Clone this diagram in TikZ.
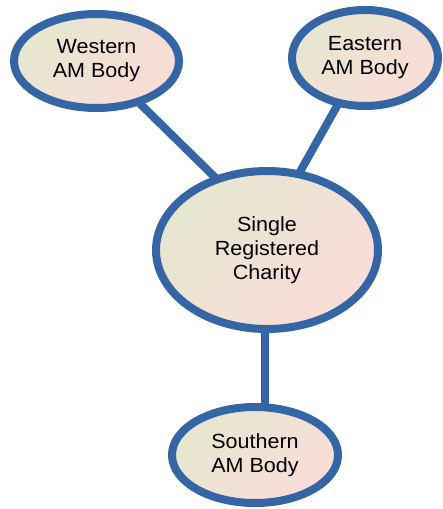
\documentclass[tikz,border=0pt]{standalone}
\usepackage{fontspec}
\setmainfont{Liberation Sans}[FakeStretch=1.05]
\usetikzlibrary{shapes.geometric}
\definecolor{ringblue}{RGB}{52,101,164}
\definecolor{fillA}{RGB}{230,231,208}
\definecolor{fillB}{RGB}{250,220,216}
\begin{document}
\begin{tikzpicture}[x=1pt,y=-1pt,
  body/.style={ellipse, draw=ringblue, line width=8pt,
    top color=fillA, bottom color=fillB, shading angle=45,
    inner sep=0pt, align=center, font=\fontsize{20.5}{24}\selectfont},
  link/.style={draw=ringblue, line width=8pt}]
\useasboundingbox (0,0) rectangle (443,509);
\coordinate (cw) at (289,250);
\coordinate (ce) at (256,250);
\coordinate (cs) at (265,250);
\coordinate (ss) at (265,455);
% connectors behind
\draw[link] (96.5,61) -- (cw);
\draw[link] (364,58) -- (ce);
\draw[link] (cs) -- (ss);
\node[body, minimum width=165pt, minimum height=94pt] (west) at (96.5,61) {Western\\AM Body};
\node[body, minimum width=146pt, minimum height=96pt] (east) at (365,58) {Eastern\\AM Body};
\node[body, minimum width=222pt, minimum height=158pt] (central) at (267,250) {Single\\Registered\\Charity};
\node[body, minimum width=166pt, minimum height=96pt] (south) at (255,455) {Southern\\AM Body};
\end{tikzpicture}
\end{document}
